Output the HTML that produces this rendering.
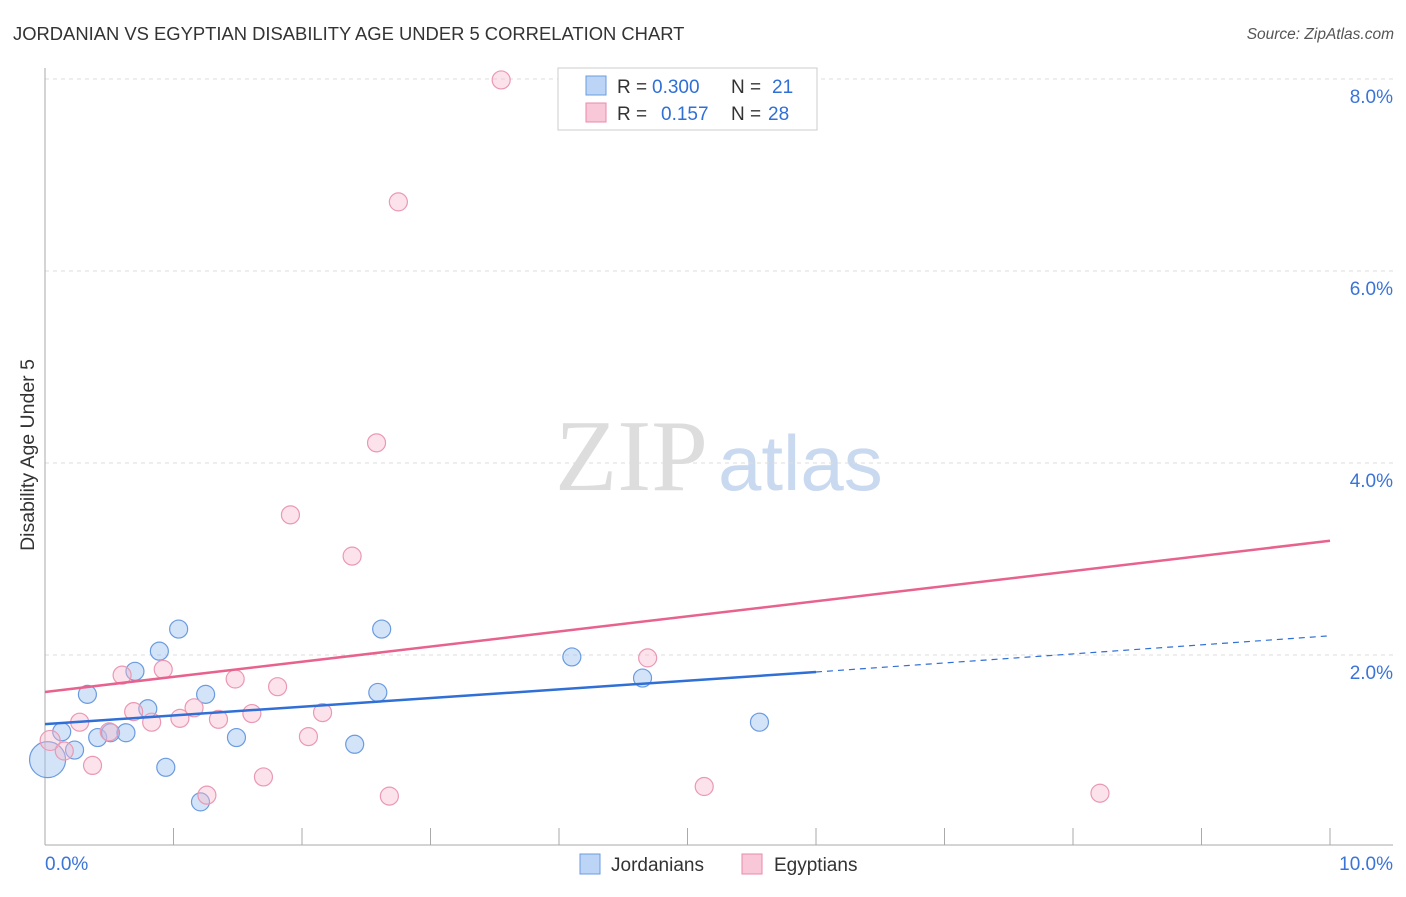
<!DOCTYPE html>
<html><head><meta charset="utf-8"><style>
body{margin:0;background:#fff;font-family:"Liberation Sans",sans-serif}
</style></head><body>
<svg width="1406" height="892" xmlns="http://www.w3.org/2000/svg" font-family="Liberation Sans, sans-serif">
<text x="13" y="40" font-size="18.4" fill="#333">JORDANIAN VS EGYPTIAN DISABILITY AGE UNDER 5 CORRELATION CHART</text>
<text x="1394" y="39" font-size="15.5" fill="#555" font-style="italic" text-anchor="end">Source: ZipAtlas.com</text>
<text x="555" y="490" font-size="102" fill="#ddd" font-family="Liberation Serif, serif">ZIP</text>
<text x="718" y="490" font-size="78" fill="#c9d9f0">atlas</text>
<g id="grid"></g>
<g id="axes"></g>
<text transform="translate(34,455) rotate(-90)" font-size="19.5" fill="#333" text-anchor="middle">Disability Age Under 5</text>
<g id="marks"></g>
<g>
<rect x="558" y="68" width="259" height="62" fill="#fff" stroke="#ccc"/>
<rect x="586" y="76" width="20" height="19" fill="#bcd4f5" stroke="#6a9be0"/>
<rect x="586" y="103" width="20" height="19" fill="#f9c8d8" stroke="#ea8aa8"/>
<text x="617" y="93" font-size="19" fill="#333">R =</text>
<text x="652" y="93" font-size="19" fill="#2f6fd6">0.300</text>
<text x="731" y="93" font-size="19" fill="#333">N =</text>
<text x="772" y="93" font-size="19" fill="#2f6fd6">21</text>
<text x="617" y="120" font-size="19" fill="#333">R =</text>
<text x="661" y="120" font-size="19" fill="#2f6fd6">0.157</text>
<text x="731" y="120" font-size="19" fill="#333">N =</text>
<text x="768" y="120" font-size="19" fill="#2f6fd6">28</text>
</g>
<g>
<rect x="580" y="854" width="20" height="20" fill="#bcd4f5" stroke="#6a9be0"/>
<text x="611" y="871" font-size="19" fill="#333">Jordanians</text>
<rect x="742" y="854" width="20" height="20" fill="#f9c8d8" stroke="#ea8aa8"/>
<text x="774" y="871" font-size="19" fill="#333">Egyptians</text>
</g>
</svg>
<script>
const yTicks=[2,4,6,8];
const yTickLabels=["2.0%","4.0%","6.0%","8.0%"];
const xTicks=[0,1,2,3,4,5,6,7,8,9,10];
const xEndLabels=["0.0%","10.0%"];
const jorX=[0.02,0.13,0.23,0.33,0.41,0.51,0.63,0.70,0.80,0.89,0.94,1.04,1.21,1.25,1.49,2.41,2.59,2.62,4.10,4.65,5.56];
const jorY=[0.91,1.20,1.01,1.59,1.14,1.19,1.19,1.83,1.44,2.04,0.83,2.27,0.47,1.59,1.14,1.07,1.61,2.27,1.98,1.76,1.30];
const jorR=[18,9,9,9,9,9,9,9,9,9,9,9,9,9,9,9,9,9,9,9,9];
const egyX=[0.04,0.15,0.27,0.37,0.50,0.60,0.69,0.83,0.92,1.05,1.16,1.26,1.35,1.48,1.61,1.70,1.81,1.91,2.05,2.16,2.39,2.58,2.68,2.75,3.55,4.69,5.13,8.21];
const egyY=[1.11,1.00,1.30,0.85,1.20,1.79,1.41,1.30,1.85,1.34,1.45,0.54,1.33,1.75,1.39,0.73,1.67,3.46,1.15,1.40,3.03,4.21,0.53,6.72,7.99,1.97,0.63,0.56];
const jorTrend=[1.28,1.823,2.2];
const egyTrend=[1.615,3.19];
const NS="http://www.w3.org/2000/svg";
const sx=v=>45+v*128.5, sy=v=>847-v*96;
function mk(parent,tag,attrs){const e=document.createElementNS(NS,tag);for(const k in attrs)e.setAttribute(k,attrs[k]);document.getElementById(parent).appendChild(e);return e;}
yTicks.forEach((t,i)=>{
 const g=mk('grid','line',{x1:45,x2:1393,y1:sy(t),y2:sy(t),stroke:'#ddd','stroke-dasharray':'4,4'});
 
 
 const l=mk('grid','text',{x:1393,y:sy(t)+24,'font-size':19,fill:'#3a74d8','text-anchor':'end'});
 l.textContent=yTickLabels[i];
 
 
});
const ya=mk('axes','line',{x1:45,x2:45,y1:68,y2:845,stroke:'#aaa'});


const xa=mk('axes','line',{x1:45,x2:1393,y1:845,y2:845,stroke:'#aaa'});


xTicks.forEach(t=>{
 const k=mk('axes','line',{x1:sx(t),x2:sx(t),y1:828,y2:845,stroke:'#aaa'});
 
 
});
const xl0=mk('axes','text',{x:45,y:870,'font-size':19,fill:'#3a74d8'});xl0.textContent=xEndLabels[0];


const xl1=mk('axes','text',{x:1393,y:870,'font-size':19,fill:'#3a74d8','text-anchor':'end'});xl1.textContent=xEndLabels[1];


jorX.forEach((x,i)=>{
 const c=mk('marks','circle',{cx:sx(x),cy:sy(jorY[i]),r:jorR[i],fill:'rgba(160,195,240,0.45)',stroke:'#6a9be0','stroke-width':1.2});
 
 
});
egyX.forEach((x,i)=>{
 const c=mk('marks','circle',{cx:sx(x),cy:sy(egyY[i]),r:i==0?10:9,fill:'rgba(248,185,205,0.4)',stroke:'#ea98b4','stroke-width':1.2});
 
 
});
const pl=mk('marks','line',{x1:sx(0),y1:sy(egyTrend[0]),x2:sx(10),y2:sy(egyTrend[1]),stroke:'#e8628e','stroke-width':2.5});


const bl=mk('marks','line',{x1:sx(0),y1:sy(jorTrend[0]),x2:sx(6),y2:sy(jorTrend[1]),stroke:'#2f6fd6','stroke-width':2.5});


const bd=mk('marks','line',{x1:sx(6),y1:sy(jorTrend[1]),x2:sx(10),y2:sy(jorTrend[2]),stroke:'#2f6fd6','stroke-width':1.2,'stroke-dasharray':'6,5'});


</script>
</body></html>
